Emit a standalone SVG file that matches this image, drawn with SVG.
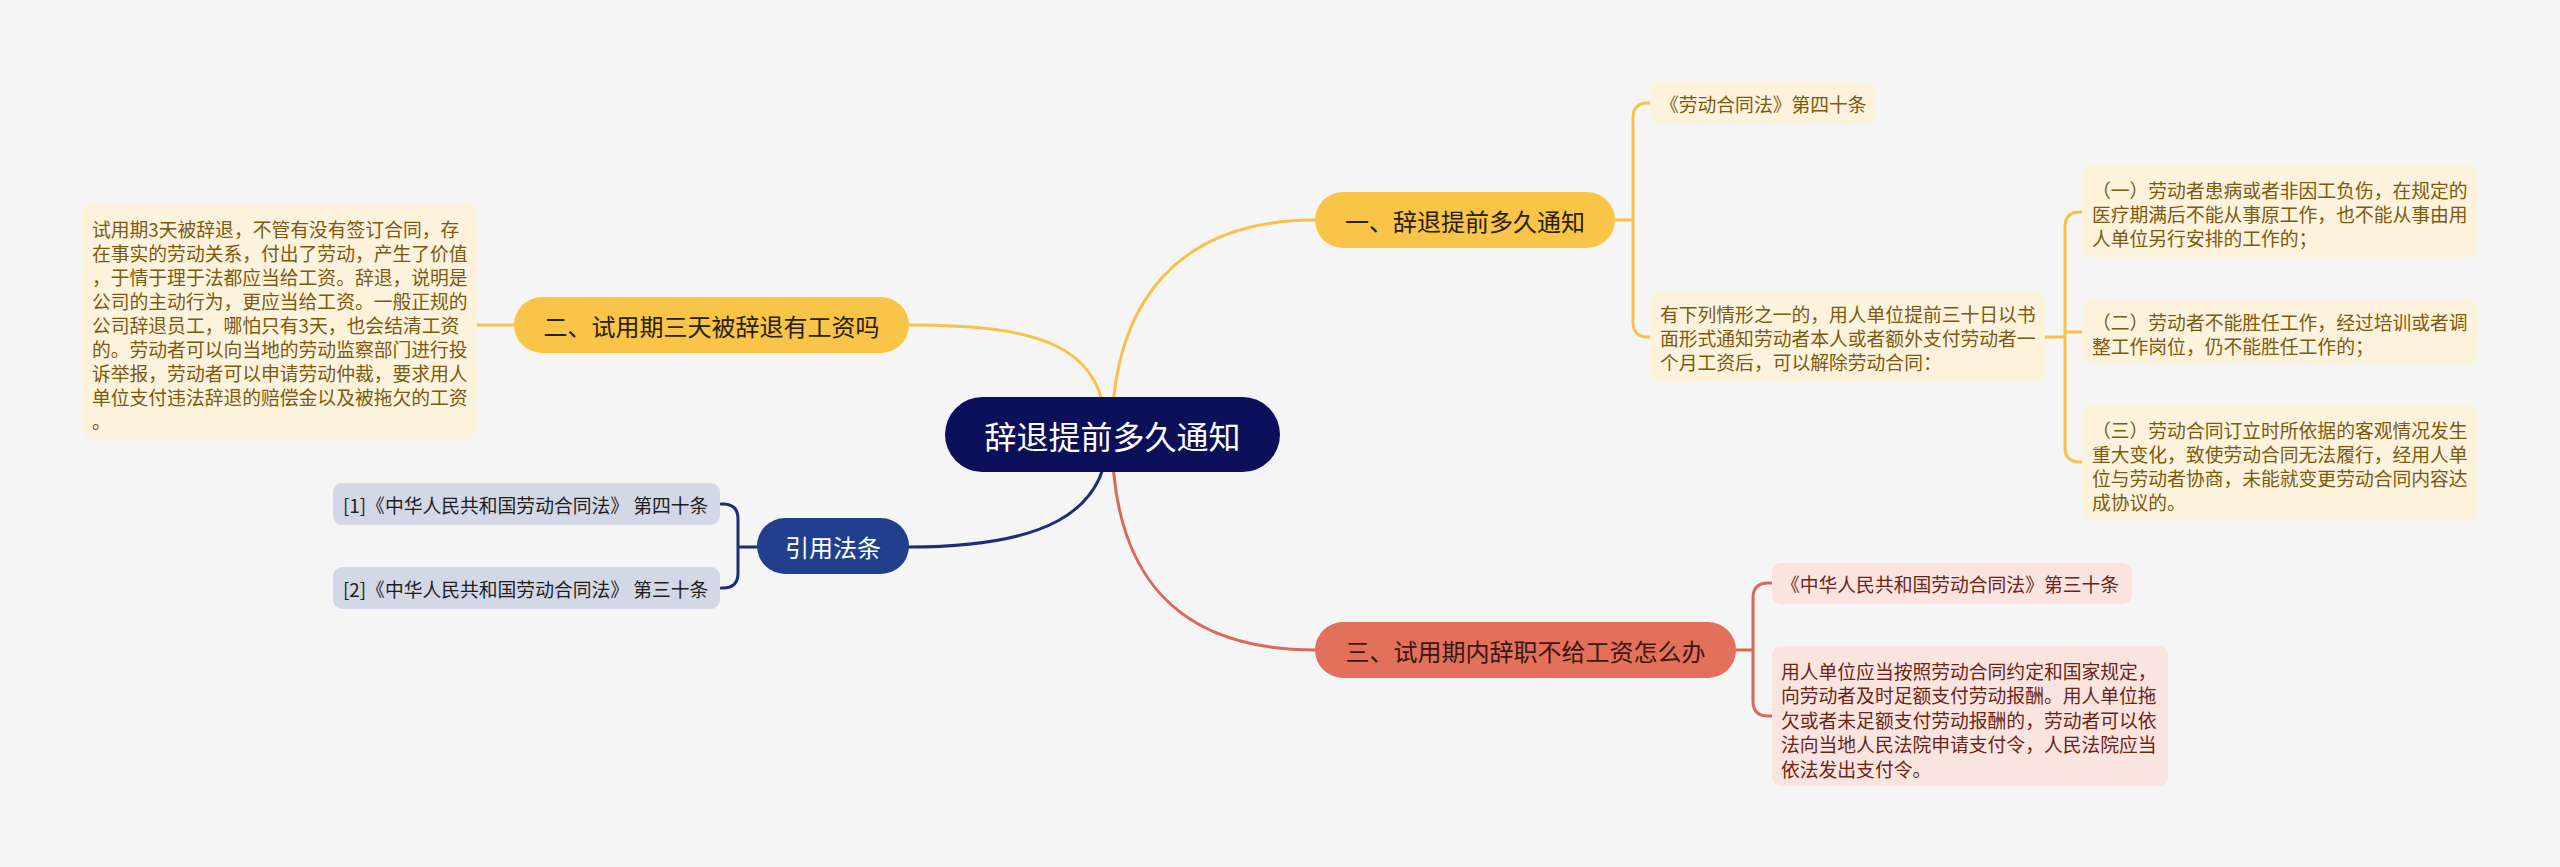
<svg xmlns="http://www.w3.org/2000/svg" width="2560" height="867" viewBox="0 0 2560 867">
<style>
text{font-family:"Noto Sans CJK SC","Noto Sans",sans-serif;dominant-baseline:central}
.c{fill:none;stroke-width:3;stroke-linecap:round}
.cy{stroke:#f5c24c}
.cb{stroke:#1c2f73}
.cr{stroke:#d9695a}
.ny{fill:#f8c549}
.ly{fill:#fdf2dc}
.lb{fill:#d3d8e7}
.lr{fill:#fae4df}
.ty{font-size:18.8px;fill:#7b5a10}
.tb{font-size:18.8px;fill:#1e1e1e}
.tr{font-size:18.8px;fill:#6b2418}
.tn{font-size:24px;fill:#2a2008}
</style>
<rect width="2560" height="867" fill="#f5f5f5"/>
<g id="connectors">
<path class="c cy" d="M1112,435 C1112,300 1180,220 1315,220"/>
<path class="c cy" d="M1106,435 C1106,345 1040,325 909,325"/>
<path class="c cb" d="M1108,435 C1108,515 1040,547 909,547"/>
<path class="c cr" d="M1112,435 C1112,580 1180,650 1315,650"/>
<path class="c cy" d="M514,325 H477"/>
<path class="c cy" d="M1615,220 H1633 M1650,103 H1648 Q1633,103 1633,118 V322 Q1633,337 1648,337 H1650"/>
<path class="c cy" d="M2045,337 H2065 M2082,212 H2080 Q2065,212 2065,227 V447 Q2065,462 2080,462 H2082 M2065,332 H2082"/>
<path class="c cb" d="M757,547 H738 M721,504 H723 Q738,504 738,519 V573 Q738,588 723,588 H721"/>
<path class="c cr" d="M1736,650 H1753 M1772,583 H1768 Q1753,583 1753,598 V701 Q1753,716 1768,716 H1772"/>
</g>
<g id="root">
<rect x="945" y="397" width="335" height="75" rx="37.5" fill="#0c0f5a"/>
<text x="1112.5" y="435" text-anchor="middle" font-size="32" fill="#ffffff">辞退提前多久通知</text>
</g>
<g id="n1">
<rect class="ny" x="1315" y="192" width="300" height="56" rx="28"/>
<text class="tn" x="1465" y="220" text-anchor="middle">一、辞退提前多久通知</text>
</g>
<g id="n2">
<rect class="ny" x="514" y="297" width="395" height="56" rx="28"/>
<text class="tn" x="711.5" y="325" text-anchor="middle">二、试用期三天被辞退有工资吗</text>
</g>
<g id="n3">
<rect x="1315" y="622" width="421" height="56" rx="28" fill="#e3705b"/>
<text class="tn" x="1525.5" y="650" text-anchor="middle" fill="#3b1710" style="fill:#3b1710">三、试用期内辞职不给工资怎么办</text>
</g>
<g id="n4">
<rect x="757" y="518" width="152" height="56" rx="28" fill="#213f8c"/>
<text x="833" y="546" text-anchor="middle" font-size="24" fill="#ffffff">引用法条</text>
</g>
<g id="l2a">
<rect class="ly" x="82" y="204" width="395" height="235" rx="9"/>
<text class="ty" x="92" y="228">试用期3天被辞退，不管有没有签订合同，存</text>
<text class="ty" x="92" y="252">在事实的劳动关系，付出了劳动，产生了价值</text>
<text class="ty" x="92" y="276">，于情于理于法都应当给工资。辞退，说明是</text>
<text class="ty" x="92" y="300">公司的主动行为，更应当给工资。一般正规的</text>
<text class="ty" x="92" y="324">公司辞退员工，哪怕只有3天，也会结清工资</text>
<text class="ty" x="92" y="348">的。劳动者可以向当地的劳动监察部门进行投</text>
<text class="ty" x="92" y="372">诉举报，劳动者可以申请劳动仲裁，要求用人</text>
<text class="ty" x="92" y="396">单位支付违法辞退的赔偿金以及被拖欠的工资</text>
<text class="ty" x="92" y="420">。</text>
</g>
<g id="l1a">
<rect class="ly" x="1650" y="82" width="225" height="42" rx="9"/>
<text class="ty" x="1660" y="103">《劳动合同法》第四十条</text>
</g>
<g id="l1b">
<rect class="ly" x="1650" y="292" width="395" height="90" rx="9"/>
<text class="ty" x="1660" y="313">有下列情形之一的，用人单位提前三十日以书</text>
<text class="ty" x="1660" y="337">面形式通知劳动者本人或者额外支付劳动者一</text>
<text class="ty" x="1660" y="361">个月工资后，可以解除劳动合同：</text>
</g>
<g id="l1b1">
<rect class="ly" x="2082" y="165" width="396" height="92" rx="9"/>
<text class="ty" x="2092" y="189">（一）劳动者患病或者非因工负伤，在规定的</text>
<text class="ty" x="2092" y="213">医疗期满后不能从事原工作，也不能从事由用</text>
<text class="ty" x="2092" y="237">人单位另行安排的工作的；</text>
</g>
<g id="l1b2">
<rect class="ly" x="2082" y="300" width="396" height="64" rx="9"/>
<text class="ty" x="2092" y="321">（二）劳动者不能胜任工作，经过培训或者调</text>
<text class="ty" x="2092" y="345">整工作岗位，仍不能胜任工作的；</text>
</g>
<g id="l1b3">
<rect class="ly" x="2082" y="405" width="396" height="115" rx="9"/>
<text class="ty" x="2092" y="429">（三）劳动合同订立时所依据的客观情况发生</text>
<text class="ty" x="2092" y="453">重大变化，致使劳动合同无法履行，经用人单</text>
<text class="ty" x="2092" y="477">位与劳动者协商，未能就变更劳动合同内容达</text>
<text class="ty" x="2092" y="501">成协议的。</text>
</g>
<g id="l4a">
<rect class="lb" x="333" y="483" width="387" height="42" rx="9"/>
<text class="tb" x="343" y="504">[1]《中华人民共和国劳动合同法》 第四十条</text>
</g>
<g id="l4b">
<rect class="lb" x="333" y="567" width="387" height="42" rx="9"/>
<text class="tb" x="343" y="588">[2]《中华人民共和国劳动合同法》 第三十条</text>
</g>
<g id="l3a">
<rect class="lr" x="1772" y="563" width="360" height="41" rx="9"/>
<text class="tr" x="1781" y="583">《中华人民共和国劳动合同法》第三十条</text>
</g>
<g id="l3b">
<rect class="lr" x="1772" y="646" width="396" height="140" rx="9"/>
<text class="tr" x="1781" y="670">用人单位应当按照劳动合同约定和国家规定，</text>
<text class="tr" x="1781" y="694.5">向劳动者及时足额支付劳动报酬。用人单位拖</text>
<text class="tr" x="1781" y="719">欠或者未足额支付劳动报酬的，劳动者可以依</text>
<text class="tr" x="1781" y="743.5">法向当地人民法院申请支付令，人民法院应当</text>
<text class="tr" x="1781" y="768">依法发出支付令。</text>
</g>
</svg>
